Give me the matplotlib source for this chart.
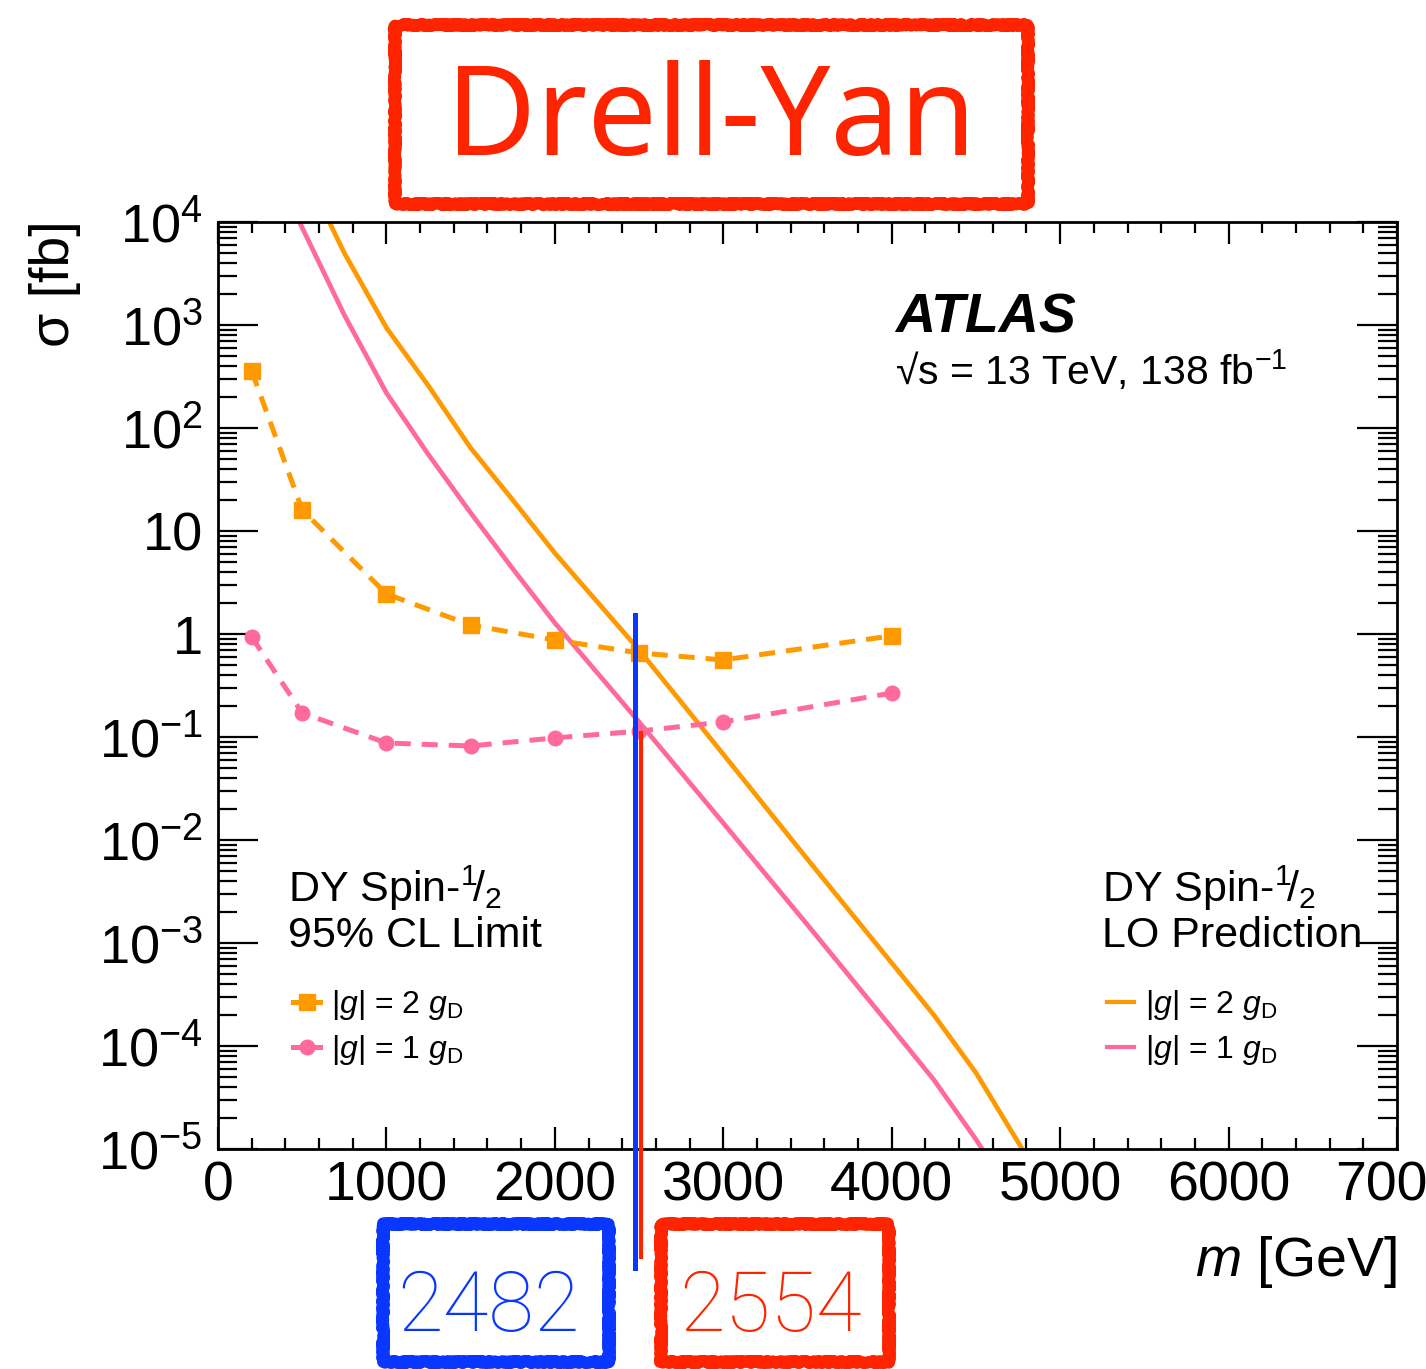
import numpy as np
import matplotlib
matplotlib.use("Agg")
import matplotlib.pyplot as plt
from matplotlib.lines import Line2D
from matplotlib.patches import Rectangle
from matplotlib.ticker import FixedLocator, FixedFormatter, NullFormatter

plt.rcParams['font.family'] = ['Liberation Sans', 'DejaVu Sans']
plt.rcParams['mathtext.fontset'] = 'custom'
plt.rcParams['mathtext.rm'] = 'Liberation Sans'
plt.rcParams['mathtext.it'] = 'Liberation Sans:italic'
plt.rcParams['mathtext.bf'] = 'Liberation Sans:bold'
plt.rcParams['mathtext.default'] = 'regular'

# ---------------- data ----------------
# Observed 95% CL limits
limit_mass = [200, 500, 1000, 1500, 2000, 2500, 3000, 4000]
limit_g2 = [357, 16.0, 2.45, 1.22, 0.875, 0.655, 0.56, 0.96]
limit_g1 = [0.935, 0.171, 0.0875, 0.0818, 0.098, 0.114, 0.14, 0.267]

# LO predictions
pred_mass_g2 = [600, 750, 1000, 1250, 1500, 1750, 2000, 2500, 3000, 3500, 4000,
                4250, 4500, 4775]
pred_g2 = [1.6e4, 5000, 940, 256, 64, 20, 6.1, 0.70, 0.068, 0.0065, 6.4e-4,
           2.0e-4, 5.5e-5, 1.0e-5]
pred_mass_g1 = [450, 750, 1000, 1250, 1500, 1750, 2000, 2500, 3000, 3500, 4000,
                4250, 4500, 4537]
pred_g1 = [1.3e4, 1250, 219, 55, 15, 4.3, 1.28, 0.14, 0.0146, 1.5e-3, 1.5e-4,
           4.7e-5, 1.24e-5, 1.0e-5]

# annotation lines (positions as drawn) and their labels
blue_line_x = 2473
red_line_x = 2513
blue_label = "2482"
red_label = "2554"

x_ticks = [0, 1000, 2000, 3000, 4000, 5000, 6000, 7000]
x_ticklabels = ["0", "1000", "2000", "3000", "4000", "5000", "6000", "7000"]
y_ticks = [1e-5, 1e-4, 1e-3, 1e-2, 1e-1, 1, 10, 1e2, 1e3, 1e4]
y_ticklabels = [r"$10^{-5}$", r"$10^{-4}$", r"$10^{-3}$", r"$10^{-2}$", r"$10^{-1}$",
                "1", "10", r"$10^{2}$", r"$10^{3}$", r"$10^{4}$"]

ORANGE = '#FF9900'
PINK = '#FF6A9B'
BLUE = '#0A37FF'
RED = '#FF2400'

W, H = 1426, 1369
fig = plt.figure(figsize=(W / 100, H / 100), dpi=100)
ax = fig.add_axes([218 / W, 1 - 1149 / H, (1397 - 218) / W, (1149 - 222) / H])
ax.set_xlim(0, 7000)
ax.set_yscale('log')
ax.set_ylim(1e-5, 1e4)

# predictions
ax.plot(pred_mass_g2, pred_g2, color=ORANGE, lw=3.4, solid_capstyle='butt',
        solid_joinstyle='round')
ax.plot(pred_mass_g1, pred_g1, color=PINK, lw=3.4, solid_capstyle='butt',
        solid_joinstyle='round')
# limits
ax.plot(limit_mass, limit_g2, color=ORANGE, lw=3.6, ls=(0, (3.2, 2.2)),
        marker='s', ms=11.5, mec=ORANGE, mfc=ORANGE)
ax.plot(limit_mass, limit_g1, color=PINK, lw=3.6, ls=(0, (3.2, 2.2)),
        marker='o', ms=10.5, mec=PINK, mfc=PINK)

# ticks
ax.xaxis.set_major_locator(FixedLocator(x_ticks))
ax.xaxis.set_major_formatter(FixedFormatter(x_ticklabels))
ax.xaxis.set_minor_locator(FixedLocator(np.arange(0, 7001, 200)))
ax.yaxis.set_major_locator(FixedLocator(y_ticks))
ax.yaxis.set_major_formatter(FixedFormatter(y_ticklabels))
minors = [m * 10.0 ** e for e in range(-5, 4) for m in range(2, 10)]
ax.yaxis.set_minor_locator(FixedLocator(minors))
ax.yaxis.set_minor_formatter(NullFormatter())
ax.tick_params(axis='both', which='both', direction='in', top=True, right=True,
               width=1.6, colors='black')
ax.tick_params(axis='x', which='major', length=16, labelsize=40, pad=8)
ax.tick_params(axis='x', which='minor', length=8)
ax.tick_params(axis='y', which='major', length=29, labelsize=39, pad=11)
ax.tick_params(axis='y', which='minor', length=14)
for s in ax.spines.values():
    s.set_linewidth(2.0)

# axis labels
fig.text(55 / W, 1 - 220 / H, "σ [fb]", rotation=90, ha='center', va='top', fontsize=40)
fig.text(1397 / W, 1 - 1262 / H, r"$\it{m}$ [GeV]", ha='right', va='center', fontsize=40)

# ATLAS label
ax.text(0.574, 0.8964, "ATLAS", transform=ax.transAxes, fontsize=40,
        fontweight='bold', fontstyle='italic', va='center', ha='left')
ax.text(0.574, 0.8404, "√s = 13 TeV, 138 fb$^{-1}$", transform=ax.transAxes,
        fontsize=29.5, va='center', ha='left')

# text blocks
for xa, lines in [(0.0594, ["DY Spin-$^{1}\\!/_{2}$", "95% CL Limit"]),
                  (0.7498, ["DY Spin-$^{1}\\!/_{2}$", "LO Prediction"])]:
    ax.text(xa, 0.2816, lines[0], transform=ax.transAxes, fontsize=31,
            va='center', ha='left')
    ax.text(xa, 0.2298, lines[1], transform=ax.transAxes, fontsize=31,
            va='center', ha='left')

lab2 = r"$|\it{g}|$ = 2 $\it{g}_{\rm{D}}$"
lab1 = r"$|\it{g}|$ = 1 $\it{g}_{\rm{D}}$"
h_lim = [Line2D([], [], color=ORANGE, lw=3.6, marker='s', ms=11),
         Line2D([], [], color=PINK, lw=3.6, marker='o', ms=10.5)]
leg1 = ax.legend(h_lim, [lab2, lab1], loc='center left', bbox_to_anchor=(0.0636, 0.131),
                 frameon=False, fontsize=23, handlelength=0.85, handletextpad=0.35,
                 labelspacing=0.35, borderpad=0, borderaxespad=0)
ax.add_artist(leg1)
h_pred = [Line2D([], [], color=ORANGE, lw=3.0), Line2D([], [], color=PINK, lw=3.0)]
ax.legend(h_pred, [lab2, lab1], loc='center left', bbox_to_anchor=(0.754, 0.131),
          frameon=False, fontsize=23, handlelength=0.85, handletextpad=0.35,
          labelspacing=0.35, borderpad=0, borderaxespad=0)

# vertical annotation lines
ax.axvline(blue_line_x, ymin=(1149 - 615) / 927, ymax=(1149 - 1268) / 927,
           color=BLUE, lw=3.6, clip_on=False, zorder=5)
ax.axvline(red_line_x, ymin=(1149 - 733) / 927, ymax=(1149 - 1257) / 927,
           color=RED, lw=3.0, clip_on=False, zorder=4)

# hand-drawn style boxes
def rough_box(x0, y0, x1, y1, color):
    r = Rectangle((x0 / W, 1 - y1 / H), (x1 - x0) / W, (y1 - y0) / H,
                  transform=fig.transFigure, fill=False, ec=color, lw=8.5,
                  joinstyle='round', capstyle='round')
    r.set_sketch_params(scale=1.2, length=5, randomness=4)
    fig.add_artist(r)

rough_box(395, 25, 1028, 204, RED)
fig.text((395 + 1028) / 2 / W, 1 - 122 / H, "Drell-Yan", color=RED, fontsize=89,
         fontfamily='Noto Sans', fontweight='bold', ha='center', va='center')

rough_box(383, 1224, 609, 1362, BLUE)
fig.text(488 / W, 1 - 1308 / H, blue_label, color=BLUE, fontsize=60,
         fontfamily='Roboto', fontweight='light', ha='center', va='center')
rough_box(661, 1224, 889, 1362, RED)
fig.text(770 / W, 1 - 1308 / H, red_label, color=RED, fontsize=60,
         fontfamily='Roboto', fontweight='light', ha='center', va='center')

fig.savefig("out.png", dpi=100)
